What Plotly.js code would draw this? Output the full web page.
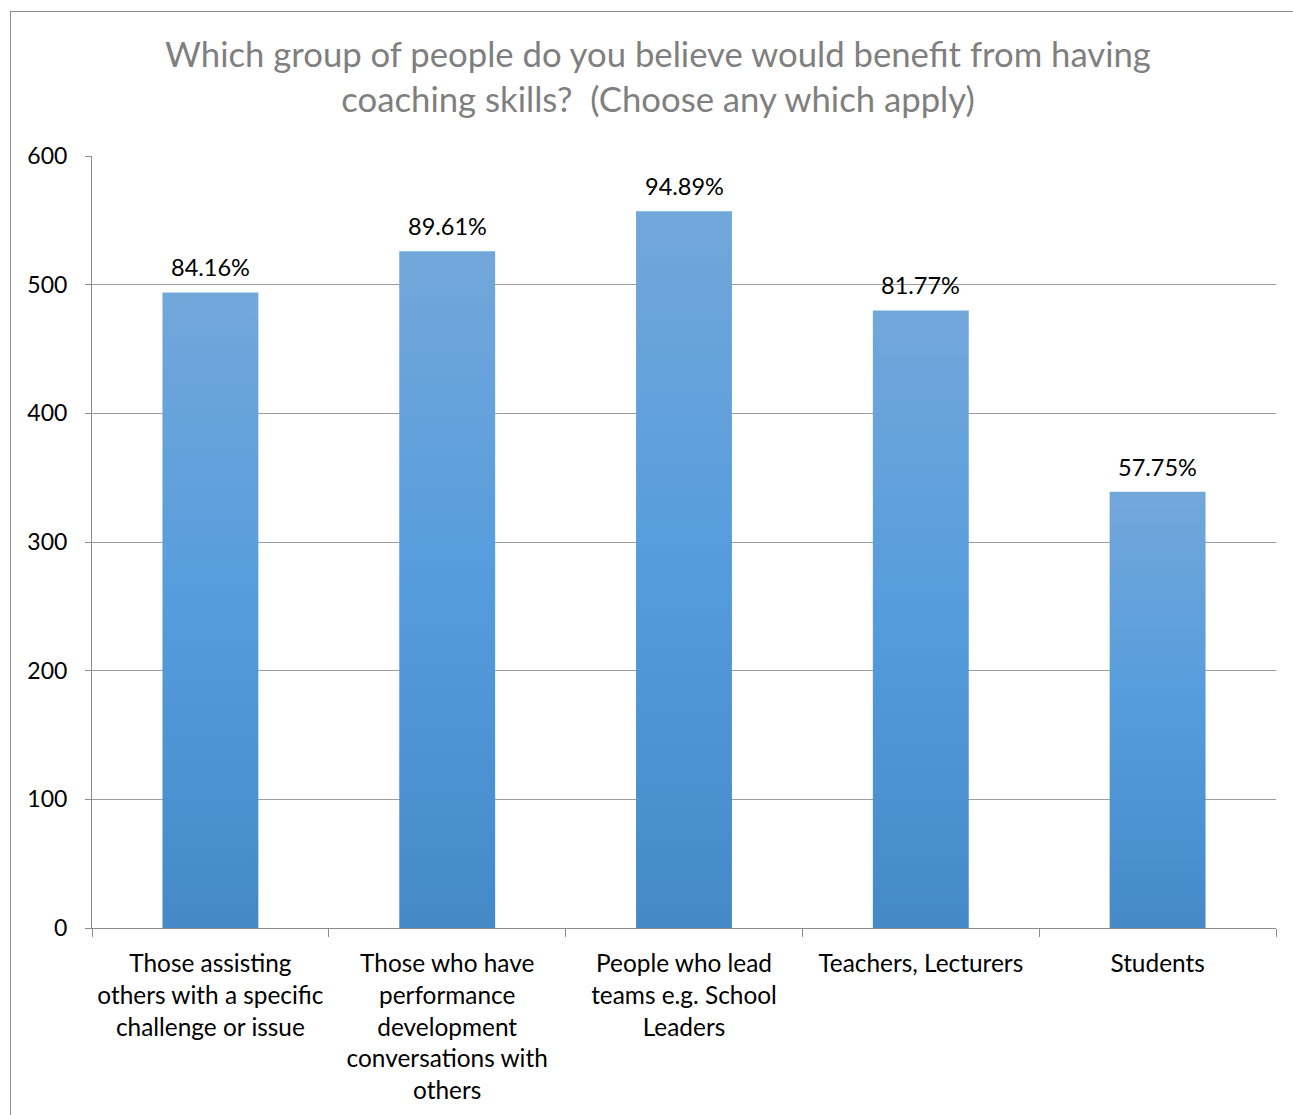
<!DOCTYPE html>
<html>
<head>
<meta charset="utf-8">
<script src="https://cdn.plot.ly/plotly-3.0.1.min.js"></script>
<style>
  html, body { margin: 0; padding: 0; background: #fff; }
  #wrap { position: relative; width: 1293px; height: 1115px; overflow: hidden; }
  #chart { position: absolute; left: 0; top: 0; width: 1293px; height: 1115px; }
  #frame { position: absolute; left: 10px; top: 11px; width: 1300px; height: 1120px;
           border: 1px solid #8c8c8c; pointer-events: none; box-sizing: border-box; }
</style>
</head>
<body>
<div id="wrap">
  <div id="chart"></div>
  <div id="frame"></div>
</div>
<script>
const categories = [
  "Those assisting<br>others with a specific<br>challenge or issue",
  "Those who have<br>performance<br>development<br>conversations with<br>others",
  "People who lead<br>teams e.g. School<br>Leaders",
  "Teachers, Lecturers",
  "Students"
];
const counts = [494, 526, 557, 480, 339];
const percentLabels = ["84.16%", "89.61%", "94.89%", "81.77%", "57.75%"];
const yTicks = [0, 100, 200, 300, 400, 500, 600];

const FONT = "Lato, 'Open Sans', sans-serif";

const trace = {
  type: "bar",
  x: categories,
  y: counts,
  marker: { color: "#559cdd", line: { width: 0 } },
  hoverinfo: "skip"
};

const annotations = categories.map((c, i) => ({
  x: c, y: counts[i], xref: "x", yref: "y",
  text: percentLabels[i], showarrow: false,
  yanchor: "bottom", yshift: 9,
  font: { family: FONT, size: 23.5, color: "#000" }
}));

const layout = {
  width: 1293, height: 1115,
  margin: { l: 92, r: 17, t: 156, b: 187, pad: 0 },
  paper_bgcolor: "#fff", plot_bgcolor: "#fff",
  font: { family: FONT, color: "#000" },
  title: {
    text: "Which group of people do you believe would benefit from having<br>coaching skills?  (Choose any which apply)",
    font: { family: FONT, size: 34.7, color: "#7f7f7f" },
    x: 658 / 1293, xanchor: "center", xref: "container",
    y: 1 - 67 / 1115, yref: "container", yanchor: "middle", pad: { t: 0, b: 0, l: 0, r: 0 }
  },
  bargap: 0.595,
  showlegend: false,
  xaxis: {
    type: "category",
    tickson: "boundaries",
    ticks: "outside", ticklen: 8, tickcolor: "#8c8c8c", tickwidth: 1,
    showline: true, linecolor: "#8c8c8c", linewidth: 1,
    showgrid: false, zeroline: false,
    tickfont: { family: FONT, size: 24.4, color: "#000" },
    ticklabelstandoff: 14,
    automargin: false, fixedrange: true
  },
  yaxis: {
    range: [0, 600],
    tickvals: yTicks, ticktext: yTicks.map(String),
    ticks: "outside", ticklen: 6, tickcolor: "#8c8c8c", tickwidth: 1,
    showline: true, linecolor: "#8c8c8c", linewidth: 1,
    showgrid: true, gridcolor: "#9d9d9d", gridwidth: 1,
    zeroline: false,
    tickfont: { family: FONT, size: 23, color: "#000" },
    ticklabelstandoff: 13,
    automargin: false, fixedrange: true
  },
  annotations: annotations
};

Plotly.newPlot("chart", [trace], layout, { displayModeBar: false, staticPlot: true }).then(gd => {
  const svg = gd.querySelector("svg.main-svg");
  const ns = "http://www.w3.org/2000/svg";
  let defs = svg.querySelector("defs");
  if (!defs) { defs = document.createElementNS(ns, "defs"); svg.insertBefore(defs, svg.firstChild); }
  const grad = document.createElementNS(ns, "linearGradient");
  grad.setAttribute("id", "barGrad");
  grad.setAttribute("x1", "0"); grad.setAttribute("y1", "0");
  grad.setAttribute("x2", "0"); grad.setAttribute("y2", "1");
  [["0", "#72a7da"], ["0.5", "#559cdd"], ["1", "#4589c7"]].forEach(([o, c]) => {
    const s = document.createElementNS(ns, "stop");
    s.setAttribute("offset", o); s.setAttribute("stop-color", c);
    grad.appendChild(s);
  });
  defs.appendChild(grad);
  gd.querySelectorAll(".barlayer .point path").forEach(p => {
    p.style.fill = "url(#barGrad)";
  });
});
</script>
</body>
</html>
